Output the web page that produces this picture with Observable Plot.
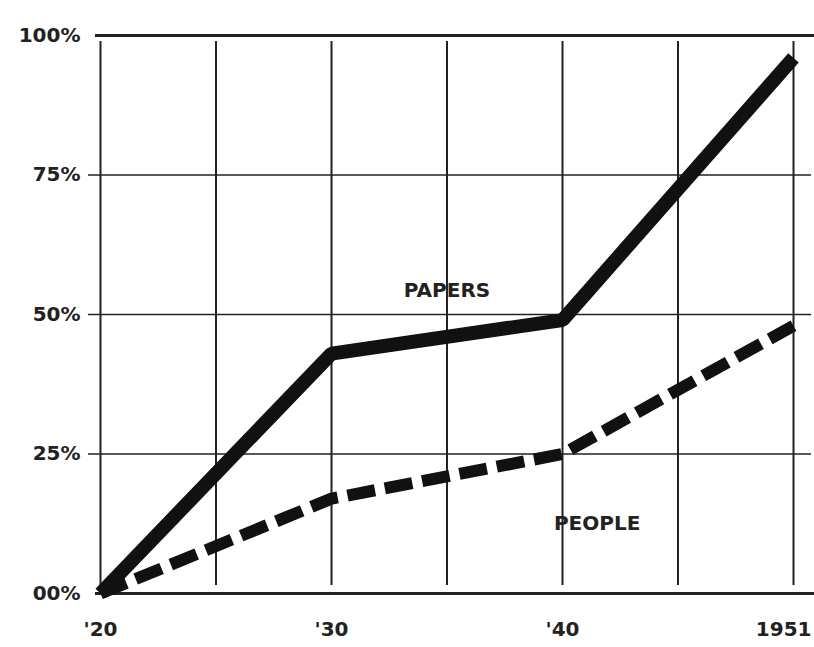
<!DOCTYPE html>
<html>
<head>
<meta charset="utf-8">
<script src="https://cdn.jsdelivr.net/npm/d3@7"></script>
<script src="https://cdn.jsdelivr.net/npm/@observablehq/plot@0.6"></script>
<style>
  html, body { margin: 0; padding: 0; background: #fff; }
  #chart svg { display: block; }
</style>
</head>
<body>
<div id="chart"></div>
<script>
// Chart periods (evenly spaced on the original; the last point is labelled 1951)
const periods = [1920, 1930, 1940, 1950];
const periodLabels = ["'20", "'30", "'40", "1951"];
const papers = [0, 43, 49, 96];   // % of papers
const people = [0, 17, 25, 48];   // % of people
const gridX = [1920, 1925, 1930, 1935, 1940, 1945, 1950];
const gridY = [0, 25, 50, 75, 100];
const yTickLabels = ["00%", "25%", "50%", "75%", "100%"];

const papersData = periods.map((p, i) => ({x: p, y: papers[i]}));
const peopleData = periods.map((p, i) => ({x: p, y: people[i]}));
const labelOf = new Map(periods.map((p, i) => [p, periodLabels[i]]));
const yLabelOf = new Map(gridY.map((v, i) => [v, yTickLabels[i]]));

const font = "'DejaVu Sans', 'Liberation Sans', sans-serif";
const lastPeriod = periods[periods.length - 1];

const chart = Plot.plot({
  width: 814,
  height: 647,
  marginLeft: 100,
  marginRight: 21,
  marginTop: 35,
  marginBottom: 54,
  style: {fontFamily: font, background: "#fff", color: "#222"},
  x: {domain: [1920, 1950], axis: null, label: null},
  y: {domain: [0, 100], axis: null, label: null},
  marks: [
    Plot.ruleX(gridX, {x: d => d, y1: 0, y2: 100, stroke: "#222", strokeWidth: 2, insetTop: -8, insetBottom: -6}),
    Plot.ruleY(gridY.filter(v => v > 0 && v < 100), {y: d => d, stroke: "#222", strokeWidth: 1.6, insetRight: -18, insetLeft: -12}),
    Plot.ruleY([0, 100], {y: d => d, stroke: "#222", strokeWidth: 3, insetRight: -21, insetLeft: -5}),
    Plot.axisY(gridY, {label: null, tickSize: 0, tickPadding: 20, tickFormat: d => yLabelOf.get(d), fontSize: 20, fontWeight: "bold", fill: "#222"}),
    Plot.axisX(periods.filter(p => p !== lastPeriod), {label: null, tickSize: 0, tickPadding: 28, tickFormat: d => labelOf.get(d), fontSize: 20, fontWeight: "bold", fill: "#222"}),
    Plot.axisX([lastPeriod], {label: null, tickSize: 0, tickPadding: 28, tickFormat: d => labelOf.get(d), fontSize: 20, fontWeight: "bold", fill: "#222", textAnchor: "end", dx: 18}),
    Plot.line(peopleData, {x: "x", y: "y", stroke: "#111", strokeWidth: 12, strokeDasharray: "28,10", strokeLinecap: "butt"}),
    Plot.line(papersData, {x: "x", y: "y", stroke: "#111", strokeWidth: 14, strokeLinejoin: "miter", strokeLinecap: "butt"}),
    Plot.text([{x: 1935, y: 55, t: "PAPERS"}], {x: "x", y: "y", text: "t", fontSize: 20, fontWeight: "bold", fill: "#222", dy: 4}),
    Plot.text([{x: 1941.5, y: 12.5, t: "PEOPLE"}], {x: "x", y: "y", text: "t", fontSize: 20, fontWeight: "bold", fill: "#222"})
  ]
});
document.getElementById("chart").appendChild(chart);
</script>
</body>
</html>
